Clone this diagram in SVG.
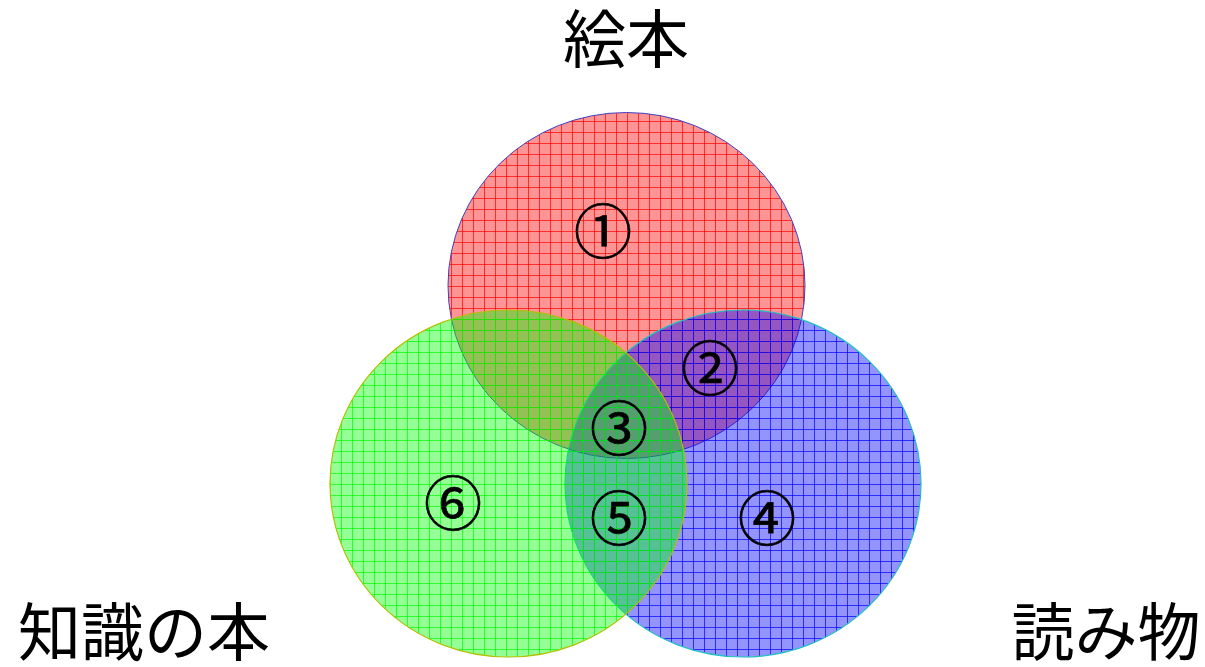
<svg xmlns="http://www.w3.org/2000/svg" width="1205" height="667" viewBox="0 0 1205 667">
<style>
.lbl{font-family:"Noto Sans CJK JP","Noto Sans",sans-serif;font-size:63px;fill:#000}
.num{font-family:"Noto Sans CJK JP","DejaVu Sans",sans-serif;font-size:58px;fill:#000;stroke:#000;stroke-width:0.7;text-anchor:middle;dominant-baseline:central}
</style>
<defs>
<pattern id="pr" patternUnits="userSpaceOnUse" width="11" height="11">
<rect width="11" height="11" fill="#ff0000" fill-opacity="0.42"/>
<path d="M0 0.5H11M0.5 0V11" stroke="#ff0000" stroke-width="1" stroke-opacity="0.7" fill="none"/>
</pattern>
<pattern id="pb" patternUnits="userSpaceOnUse" width="11" height="11">
<rect width="11" height="11" fill="#0000ff" fill-opacity="0.42"/>
<path d="M0 0.5H11M0.5 0V11" stroke="#0000ff" stroke-width="1" stroke-opacity="0.7" fill="none"/>
</pattern>
<pattern id="pg" patternUnits="userSpaceOnUse" width="11" height="11">
<rect width="11" height="11" fill="#00ff00" fill-opacity="0.42"/>
<path d="M0 0.5H11M0.5 0V11" stroke="#00ff00" stroke-width="1" stroke-opacity="0.7" fill="none"/>
</pattern>
</defs>
<rect width="1205" height="667" fill="#ffffff"/>
<g id="circle-ehon"><ellipse cx="626.5" cy="285.5" rx="178.5" ry="173" fill="url(#pr)" stroke="#4040c0" stroke-width="1"/></g>
<g id="circle-yomimono"><ellipse cx="743" cy="483.5" rx="178" ry="173.5" fill="url(#pb)" stroke="#20c0c0" stroke-width="1.2"/></g>
<g id="circle-chishiki"><ellipse cx="508.5" cy="483.5" rx="178.5" ry="173.5" fill="url(#pg)" stroke="#b0c000" stroke-width="1.2"/></g>
<g id="connectors"/>
<g id="labels">
<text class="lbl" x="626" y="62" text-anchor="middle">絵本</text>
<text class="lbl" x="18" y="655">知識の本</text>
<text class="lbl" x="1106" y="655" text-anchor="middle">読み物</text>
</g>
<g id="numbers">
<text class="num" x="603" y="228">①</text>
<text class="num" x="710" y="365">②</text>
<text class="num" x="619" y="425">③</text>
<text class="num" x="767" y="515">④</text>
<text class="num" x="619" y="515">⑤</text>
<text class="num" x="453" y="500">⑥</text>
</g>
</svg>
